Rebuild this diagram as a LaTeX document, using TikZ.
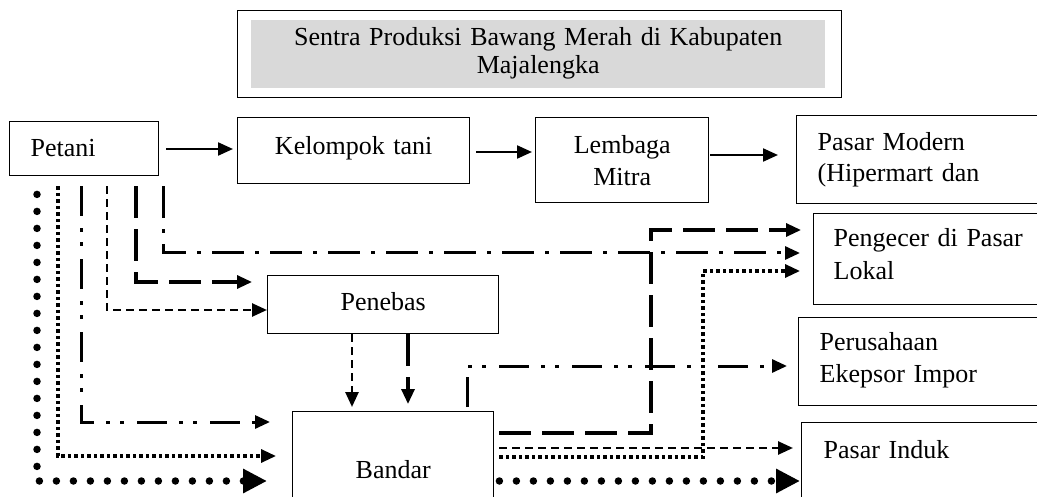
\documentclass[tikz,border=0pt]{standalone}
\usepackage{fontspec}
\setmainfont{Liberation Serif}
\usetikzlibrary{arrows.meta}
\begin{document}
\begin{tikzpicture}[x=1pt,y=-1pt,
  >={Triangle[length=15pt,width=13pt]},
  box/.style={draw,line width=1.4pt,inner ysep=0pt,anchor=north west,
    font=\fontsize{26}{32}\selectfont},
  solidarr/.style={line width=2.2pt,->},
  bigdots/.style={line width=7.5pt,line cap=round,dash pattern=on 0pt off 17pt,
    -{Triangle[length=24pt,width=23pt]}},
  smalldots/.style={line width=3.2pt,dash pattern=on 3.2pt off 3.3pt,->},
  dashdotdot/.style={line width=3pt,dash pattern=on 30pt off 12pt on 4pt off 10pt on 4pt off 13pt,->},
  dashdotline/.style={line width=3pt,dash pattern=on 32pt off 11pt on 4pt off 11pt,->},
  longdash/.style={line width=3.2pt,dash pattern=on 32pt off 11pt,->},
  shortdash/.style={line width=2.6pt,dash pattern=on 8pt off 5pt,->}
]
\useasboundingbox (0,0) rectangle (1037,497);
\clip (0,0) rectangle (1037,497);

% title
\node[draw,line width=1.4pt,anchor=north west,inner sep=0pt,
  minimum width=604pt,minimum height=87pt] (frame) at (237,10) {};
\node[fill=gray!30,anchor=north west,inner sep=0pt,text width=574pt,align=center,
  text height=25pt,text depth=43pt,font=\fontsize{26}{28}\selectfont] (title) at (251,20)
  {Sentra Produksi Bawang Merah di Kabupaten\\Majalengka};

% boxes
\node[box,inner xsep=21pt,text width=107pt,align=left,text height=35pt,text depth=19pt] (petani) at (9,121) {Petani};
\node[box,inner xsep=4pt,text width=224pt,align=center,text height=37pt,text depth=29pt] (kelompok) at (237,117) {Kelompok tani};
\node[box,inner xsep=4pt,text width=165pt,align=center,text height=36pt,text depth=49pt] (lembaga) at (535,117) {Lembaga\\Mitra};
\node[box,inner xsep=21pt,text width=212pt,align=left,text height=35pt,text depth=53pt,
  font=\fontsize{26}{31}\selectfont] (modern) at (796,115) {Pasar Modern\\(Hipermart dan};
\node[box,inner xsep=20pt,text width=197pt,align=left,text height=33pt,text depth=58pt,
  font=\fontsize{26}{33}\selectfont] (pengecer) at (813,213) {Pengecer di Pasar\\Lokal};
\node[box,inner xsep=21pt,text width=210pt,align=left,text height=33pt,text depth=55pt] (perusahaan) at (798,317) {Perusahaan\\Ekepsor Impor};
\node[box,inner xsep=22pt,text width=205pt,align=left,text height=36pt,text depth=82pt] (induk) at (801,422) {Pasar Induk};
\node[box,inner xsep=4pt,text width=223pt,align=center,text height=35pt,text depth=23pt] (penebas) at (267,275) {Penebas};
\node[box,inner xsep=4pt,text width=193pt,align=center,text height=67pt,text depth=62pt] (bandar) at (292,411) {Bandar};

% top chain
\draw[solidarr,shorten <=7pt,shorten >=4pt] (petani.east |- 0,149) -- (kelompok.west |- 0,149);
\draw[solidarr,shorten <=6pt,shorten >=3pt] (kelompok.east |- 0,152) -- (lembaga.west |- 0,152);
\draw[solidarr,shorten <=1pt,shorten >=18pt] (lembaga.east |- 0,155) -- (modern.west |- 0,155);

% from Petani
\draw[bigdots,shorten <=18pt,shorten >=25pt] (petani.south -| 37,0) |- (bandar.west |- 0,481);
\draw[smalldots,shorten <=10pt,shorten >=16pt] (petani.south -| 58,0) |- (bandar.west |- 0,456);
\draw[dashdotdot,shorten <=10pt,shorten >=22pt] (petani.south -| 81,0) |- (bandar.west |- 0,422);
\draw[shortdash,shorten <=10pt] (petani.south -| 107,0) |- (penebas.west |- 0,310);
\draw[longdash,shorten <=10pt,shorten >=15pt] (petani.south -| 136,0) |- (penebas.west |- 0,282);
\draw[dashdotline,shorten <=10pt,shorten >=13pt] (petani.south -| 163,0) |- (pengecer.west |- 0,253);

% Penebas to Bandar
\draw[shortdash,shorten >=4pt] (penebas.south -| 352,0) -- (bandar.north -| 352,0);
\draw[longdash,shorten >=7pt] (penebas.south -| 408,0) -- (bandar.north -| 408,0);

% from Bandar
\draw[longdash,shorten <=5pt,shorten >=12pt] (bandar.east |- 0,433) -| (651,230) -- (pengecer.west |- 0,230);
\draw[shortdash,shorten <=5pt,shorten >=8pt] (bandar.east |- 0,448) -- (induk.west |- 0,448);
\draw[smalldots,shorten <=5pt,shorten >=13pt] (bandar.east |- 0,457) -| (703,271) -- (pengecer.west |- 0,271);
\draw[bigdots,shorten <=5pt,shorten >=1pt] (bandar.east |- 0,481) -- (induk.west |- 0,481);
\draw[dashdotdot,shorten <=4pt,shorten >=11pt] (bandar.north -| 467,0) |- (perusahaan.west |- 0,366);
\end{tikzpicture}
\end{document}
